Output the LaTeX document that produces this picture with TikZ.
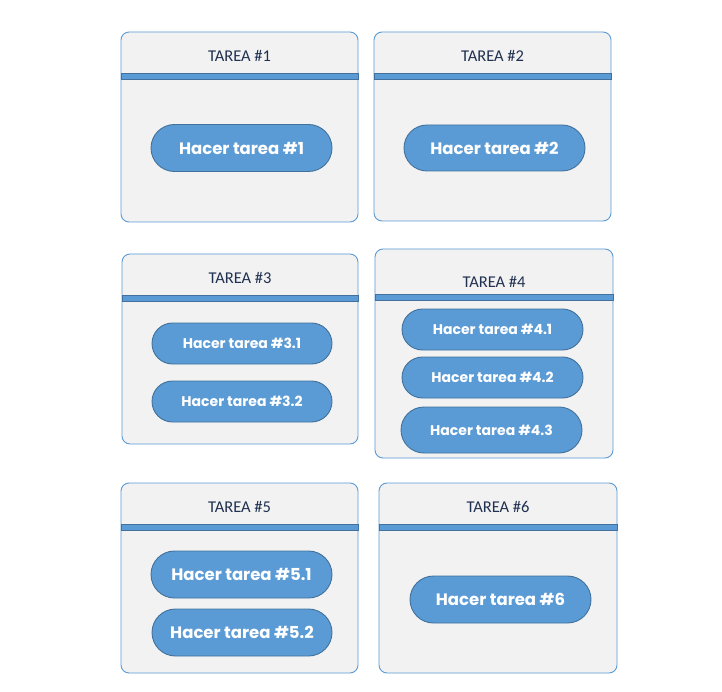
\documentclass[tikz,border=0pt]{standalone}
\usepackage{fontspec}
\setmainfont{Carlito}
\newfontfamily\pillfont{Poppins}
\usetikzlibrary{shapes.misc,calc}
\definecolor{panelfill}{HTML}{F2F2F2}
\definecolor{panelline}{HTML}{5B9BD5}
\definecolor{pillfill}{HTML}{5B9BD5}
\definecolor{pillline}{HTML}{41719C}
\definecolor{titlecol}{HTML}{1F3050}
\tikzset{
  panel/.style={draw=panelline, fill=panelfill, line width=0.9pt, rounded corners=8pt, outer sep=0pt, inner sep=0pt},
  bar/.style={draw=pillline, fill=pillfill, line width=0.8pt},
  ttl/.style={text=titlecol, font=\fontsize{16.5}{18}\selectfont, inner sep=0pt},
  pill/.style={rounded rectangle, draw=pillline, fill=pillfill, line width=0.9pt, text=white, inner sep=0pt, outer sep=0pt},
  big/.style={font=\pillfont\bfseries\fontsize{16.5}{18}\selectfont},
  small/.style={font=\pillfont\bfseries\fontsize{14}{15}\selectfont},
}
\newcommand{\lowr}[1]{\raisebox{-1pt}{#1}}
\begin{document}
\begin{tikzpicture}[x=1pt,y=-1pt]
\useasboundingbox (0,0) rectangle (722,692);
\fill[white] (0,0) rectangle (722,692);
% panels
\node[panel, minimum width=237pt, minimum height=190pt] (p1) at (239.5,127) {};
\node[panel, minimum width=237pt, minimum height=189pt] (p2) at (492.5,126.5) {};
\node[panel, minimum width=236pt, minimum height=190pt] (p3) at (240,349) {};
\node[panel, minimum width=238pt, minimum height=209pt] (p4) at (494,353.5) {};
\node[panel, minimum width=237pt, minimum height=190pt] (p5) at (239.5,578) {};
\node[panel, minimum width=238pt, minimum height=190pt] (p6) at (498,578) {};
% bars
\draw[bar] ($(p1.north west)+(0,41)$) rectangle ($(p1.north east)+(0,47)$);
\draw[bar] ($(p2.north west)+(0,41)$) rectangle ($(p2.north east)+(0,47)$);
\draw[bar] ($(p3.north west)+(0,41)$) rectangle ($(p3.north east)+(0,47)$);
\draw[bar] ($(p4.north west)+(0,45)$) rectangle ($(p4.north east)+(0,51.5)$);
\draw[bar] ($(p5.north west)+(0,41)$) rectangle ($(p5.north east)+(0,47)$);
\draw[bar] ($(p6.north west)+(0,41)$) rectangle ($(p6.north east)+(0,47)$);
% titles
\node[ttl] (t1) at ($(p1.north)+(0,23.5)$) {TAREA \#1};
\node[ttl] (t2) at ($(p2.north)+(0,23.5)$) {TAREA \#2};
\node[ttl] (t3) at ($(p3.north)+(0,23.5)$) {TAREA \#3};
\node[ttl] (t4) at ($(p4.north)+(0,33)$) {TAREA \#4};
\node[ttl] (t5) at ($(p5.north)+(0,23.5)$) {TAREA \#5};
\node[ttl] (t6) at ($(p6.north)+(0,23.5)$) {TAREA \#6};
% pills
\node[pill, big, minimum width=181pt, minimum height=47pt] (h1) at (241.5,148) {\lowr{Hacer tarea \#1}};
\node[pill, big, minimum width=181pt, minimum height=46pt] (h2) at (494.5,148) {\lowr{Hacer tarea \#2}};
\node[pill, small, minimum width=180pt, minimum height=41pt] (h31) at (242,343.5) {\lowr{Hacer tarea \#3.1}};
\node[pill, small, minimum width=180pt, minimum height=41pt] (h32) at (242,401.5) {\lowr{Hacer tarea \#3.2}};
\node[pill, small, minimum width=181pt, minimum height=41pt] (h41) at (492.5,329.5) {\lowr{Hacer tarea \#4.1}};
\node[pill, small, minimum width=181pt, minimum height=41pt] (h42) at (492.5,377.5) {\lowr{Hacer tarea \#4.2}};
\node[pill, small, minimum width=181pt, minimum height=46pt] (h43) at (491.5,430) {\lowr{Hacer tarea \#4.3}};
\node[pill, big, minimum width=181pt, minimum height=47pt] (h51) at (241.5,574.5) {\lowr{Hacer tarea \#5.1}};
\node[pill, big, minimum width=180pt, minimum height=47pt] (h52) at (242,632.5) {\lowr{Hacer tarea \#5.2}};
\node[pill, big, minimum width=181pt, minimum height=47pt] (h6) at (500.5,599.5) {\lowr{Hacer tarea \#6}};
\end{tikzpicture}
\end{document}
